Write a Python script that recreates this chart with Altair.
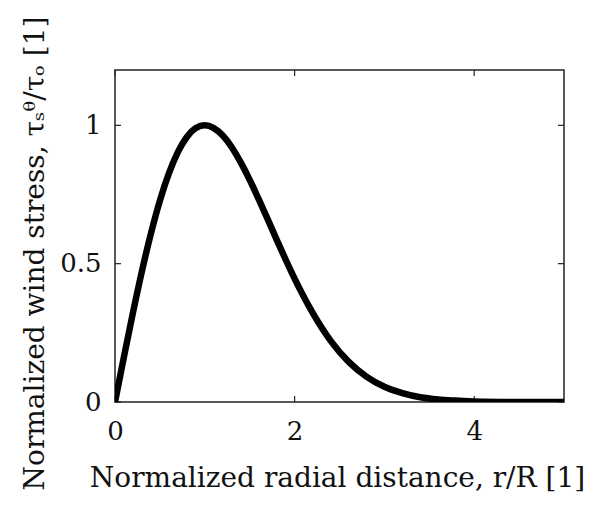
import altair as alt
import pandas as pd

# Curve values
r_vals = [0.0, 0.1, 0.2, 0.3, 0.4, 0.5, 0.6, 0.7, 0.8, 0.9, 1.0, 1.1, 1.2, 1.3, 1.4,
          1.5, 1.6, 1.7, 1.8, 1.9, 2.0, 2.2, 2.4, 2.6, 2.8, 3.0, 3.2, 3.4, 3.6, 3.8,
          4.0, 4.5, 5.0]
tau_vals = [0.0, 0.164, 0.323, 0.473, 0.609, 0.728, 0.826, 0.903, 0.958, 0.990, 1.0,
            0.990, 0.963, 0.921, 0.866, 0.803, 0.733, 0.661, 0.587, 0.515, 0.446,
            0.323, 0.222, 0.146, 0.092, 0.055, 0.032, 0.017, 0.009, 0.005, 0.002,
            0.0002, 0.0]

x_ticks = [0, 2, 4]
y_ticks = [0, 0.5, 1]

W, H = 449, 332
FONT = "DejaVu Serif"

df = pd.DataFrame({"r": r_vals, "tau": tau_vals})
xt = pd.DataFrame({"x": x_ticks})
yt = pd.DataFrame({"y": y_ticks})

xscale = alt.Scale(domain=[0, 5], nice=False, zero=False)
yscale = alt.Scale(domain=[0, 1.2], nice=False, zero=False)

line = alt.Chart(df).mark_line(color="black", strokeWidth=6.5, interpolate="monotone",
                               clip=True).encode(
    x=alt.X("r:Q", scale=xscale,
            axis=alt.Axis(values=x_ticks, title="Normalized radial distance, r/R [1]",
                          format="d", labelFlush=False,
                          ticks=False, domain=False, grid=False, labelPadding=16,
                          titleX=222, titleY=84, titleBaseline="alphabetic",
                          titleAnchor="middle", titleAlign="center")),
    y=alt.Y("tau:Q", scale=yscale,
            axis=alt.Axis(values=y_ticks, title="Normalized wind stress, τₛᶿ/τₒ [1]",
                          ticks=False, domain=False, grid=False, labelPadding=14,
                          labelFlush=False,
                          labelExpr="datum.value == 0 ? '0' : datum.value == 1 ? '1' : '0.5'",
                          titleX=-72, titleY=183, titleAngle=270,
                          titleBaseline="alphabetic", titleAlign="center")),
)

tick_color = "#222"
bottom_ticks = alt.Chart(xt).mark_rule(color=tick_color, strokeWidth=1.2).encode(
    x=alt.X("x:Q", scale=xscale), y=alt.value(H), y2=alt.value(H - 6))
top_ticks = alt.Chart(xt).mark_rule(color=tick_color, strokeWidth=1.2).encode(
    x=alt.X("x:Q", scale=xscale), y=alt.value(0), y2=alt.value(6))
left_ticks = alt.Chart(yt).mark_rule(color=tick_color, strokeWidth=1.2).encode(
    y=alt.Y("y:Q", scale=yscale), x=alt.value(0), x2=alt.value(6))
right_ticks = alt.Chart(yt).mark_rule(color=tick_color, strokeWidth=1.2).encode(
    y=alt.Y("y:Q", scale=yscale), x=alt.value(W), x2=alt.value(W - 6))

chart = alt.layer(bottom_ticks, top_ticks, left_ticks, right_ticks, line).properties(
    width=W, height=H,
    background="white",
    autosize=alt.AutoSizeParams(type="none"),
    padding={"left": 107, "top": 62, "right": 34, "bottom": 92},
).configure_view(
    stroke="#222", strokeWidth=1.5
).configure_axis(
    labelFont=FONT, labelFontSize=26, labelColor="#111",
    titleFont=FONT, titleFontSize=28, titleColor="#111", titleFontWeight="normal",
)

chart.save("out.html", embed_options={"renderer": "svg", "actions": False})
